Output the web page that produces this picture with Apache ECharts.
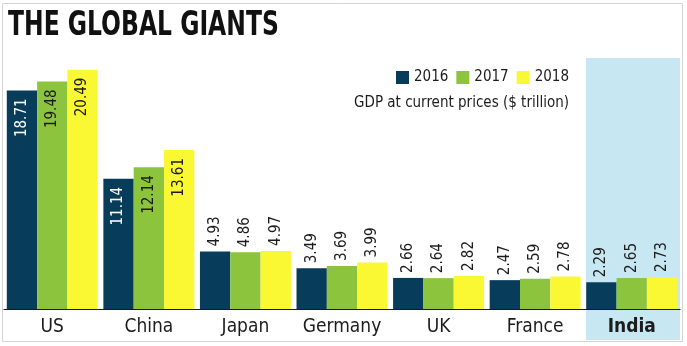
<!DOCTYPE html>
<html>
<head>
<meta charset="utf-8">
<script src="https://cdn.jsdelivr.net/npm/echarts@6/dist/echarts.min.js"></script>
<style>
  html, body { margin: 0; padding: 0; background: #ffffff; }
  #chart { width: 687px; height: 346px; }
</style>
</head>
<body>
<div id="chart"></div>
<script>
// GDP at current prices, $ trillion
const countries = ['US', 'China', 'Japan', 'Germany', 'UK', 'France', 'India'];
const years = ['2016', '2017', '2018'];
const gdp2016 = [18.71, 11.14, 4.93, 3.49, 2.66, 2.47, 2.29];
const gdp2017 = [19.48, 12.14, 4.86, 3.69, 2.64, 2.59, 2.65];
const gdp2018 = [20.49, 13.61, 4.97, 3.99, 2.82, 2.78, 2.73];
const highlighted = 'India';

const colors = ['#073c5b', '#8cc43e', '#faf733'];
const narrow = '"DejaVu Sans Condensed", "Liberation Sans Narrow", sans-serif';

// Tall bars carry their value inside the top end, short ones above it
function barData(values, seriesIdx) {
  return values.map(v => {
    const inside = v > 8;
    return {
      value: v,
      label: inside ? {
        position: 'insideTop',
        distance: 8,
        align: 'right',
        color: seriesIdx === 0 ? '#ffffff' : '#1c1c1c'
      } : {
        position: 'top',
        distance: 5,
        align: 'left',
        color: '#1c1c1c'
      }
    };
  });
}

function makeSeries(name, values, idx) {
  return {
    name: name,
    type: 'bar',
    barGap: '0%',
    barCategoryGap: '5.8%',
    itemStyle: { color: colors[idx] },
    label: {
      show: true,
      rotate: 90,
      verticalAlign: 'middle',
      fontFamily: narrow,
      fontSize: 15,
      formatter: p => p.value.toFixed(2)
    },
    data: barData(values, idx),
    z: 3
  };
}

const chart = echarts.init(document.getElementById('chart'), null, { renderer: 'canvas' });

chart.setOption({
  animation: false,
  backgroundColor: '#ffffff',
  title: [
    {
      text: 'GDP at current prices ($ trillion)',
      right: 113,
      top: 91,
      textStyle: { fontFamily: narrow, fontWeight: 'normal', fontSize: 15, color: '#1c1c1c' }
    }
  ],
  legend: {
    data: years,
    right: 113,
    top: 65,
    icon: 'rect',
    itemWidth: 13,
    itemHeight: 13,
    itemGap: 8,
    textStyle: { fontFamily: narrow, fontSize: 15, color: '#1c1c1c' }
  },
  grid: { left: 4, right: 7, top: 52, bottom: 37, containLabel: false },
  xAxis: {
    type: 'category',
    data: countries,
    axisLine: { show: true, lineStyle: { color: '#1a1a1a', width: 1.2 } },
    axisTick: { show: false },
    axisLabel: {
      interval: 0,
      margin: 9,
      fontFamily: narrow,
      fontSize: 19,
      color: '#1c1c1c',
      formatter: v => v === highlighted ? '{hl|' + v + '}' : v,
      rich: { hl: { fontFamily: narrow, fontSize: 19, fontWeight: 'bold', color: '#1c1c1c' } }
    },
    z: 5
  },
  yAxis: {
    type: 'value',
    min: 0,
    max: 22,
    show: false,
    splitLine: { show: false }
  },
  series: [
    makeSeries(years[0], gdp2016, 0),
    makeSeries(years[1], gdp2017, 1),
    makeSeries(years[2], gdp2018, 2)
  ]
});

// Highlight band behind the India group, sized from the category axis
const grid = chart.getModel().getComponent('grid').coordinateSystem.getRect();
const catWidth = grid.width / countries.length;
const cx = chart.convertToPixel({ xAxisIndex: 0 }, highlighted);
const bandLeft = cx - catWidth / 2 + 2.5;
const bandRight = grid.x + grid.width;

chart.setOption({
  graphic: [
    {
      // headline, set in a condensed bold face
      type: 'text',
      left: 8,
      top: 10,
      scaleX: 0.79,
      style: {
        text: 'THE GLOBAL GIANTS',
        font: 'bold 33px "DejaVu Sans Condensed", sans-serif',
        fill: '#111111'
      }
    },
    {
      type: 'rect',
      z: -1,
      silent: true,
      shape: { x: bandLeft, y: 58, width: bandRight - bandLeft, height: 340 - 58 },
      style: { fill: '#c7e8f2' }
    },
    {
      type: 'rect',
      z: -2,
      silent: true,
      shape: { x: 2.5, y: 3.5, width: 680, height: 338 },
      style: { fill: 'none', stroke: '#d4d4d4', lineWidth: 1 }
    }
  ]
});
</script>
</body>
</html>
